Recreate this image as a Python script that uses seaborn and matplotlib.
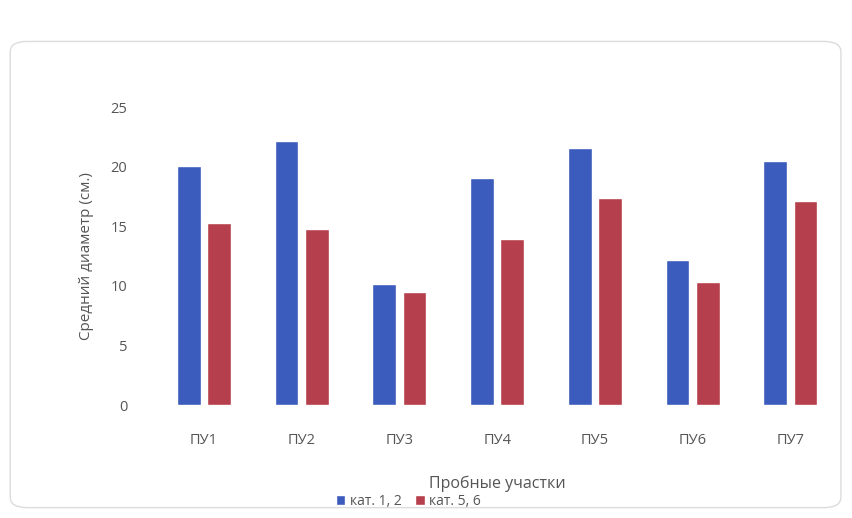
import matplotlib
matplotlib.use("Agg")
import matplotlib.pyplot as plt
import seaborn as sns
import pandas as pd
from matplotlib.patches import FancyBboxPatch

# Sample plots and mean tree diameters (cm) per category group
plots = ["ПУ1", "ПУ2", "ПУ3", "ПУ4", "ПУ5", "ПУ6", "ПУ7"]
cat_12 = [20.1, 22.2, 10.2, 19.1, 21.6, 12.2, 20.5]
cat_56 = [15.3, 14.8, 9.5, 13.9, 17.4, 10.3, 17.1]
series_names = ["кат. 1, 2", "кат. 5, 6"]
yticks = [0, 5, 10, 15, 20, 25]

df = pd.DataFrame({
    "plot": plots * 2,
    "value": cat_12 + cat_56,
    "group": [series_names[0]] * len(plots) + [series_names[1]] * len(plots),
})

sns.set_theme(style="white")
plt.rcParams["font.family"] = ["Open Sans", "DejaVu Sans"]

text_color = "#555555"
palette = {series_names[0]: "#3b5bbd", series_names[1]: "#b53f4c"}

fig = plt.figure(figsize=(8.52, 5.18), dpi=100)
fig.patch.set_facecolor("white")

# light card outline around the chart
card = FancyBboxPatch((0.012, 0.02), 0.975, 0.9, boxstyle="round,pad=0,rounding_size=0.02",
                      transform=fig.transFigure, facecolor="none",
                      edgecolor="#dcdcdc", linewidth=1.0, zorder=-1)
fig.patches.append(card)

ax = fig.add_axes([0.182, 0.218, 0.803, 0.575])
ax.set_facecolor("none")

sns.barplot(data=df, x="plot", y="value", hue="group", palette=palette,
            width=0.62, gap=0.22, saturation=1, ax=ax, legend=True)

ax.set_ylim(0, 25)
ax.set_yticks(yticks)
ax.set_yticklabels([str(t) for t in yticks], color=text_color, fontsize=10.5)
ax.set_xlim(-0.5, len(plots) - 0.5)
ax.tick_params(axis="x", colors=text_color, labelsize=10.5, pad=20, length=0)
ax.tick_params(axis="y", colors=text_color, length=0, pad=20)
for s in ax.spines.values():
    s.set_visible(False)

ax.set_ylabel("Средний диаметр (см.)", color=text_color, fontsize=11, labelpad=12)
ax.set_xlabel("Пробные участки", color=text_color, fontsize=11.5, labelpad=20)

leg = ax.legend(loc="upper center", bbox_to_anchor=(0.37, -0.293), ncol=2,
                frameon=False, fontsize=10, handlelength=0.7, handleheight=0.7,
                handletextpad=0.3, columnspacing=1.0, borderaxespad=0, borderpad=0.1)
for t in leg.get_texts():
    t.set_color(text_color)

fig.savefig("out.png", dpi=100, facecolor="white")
